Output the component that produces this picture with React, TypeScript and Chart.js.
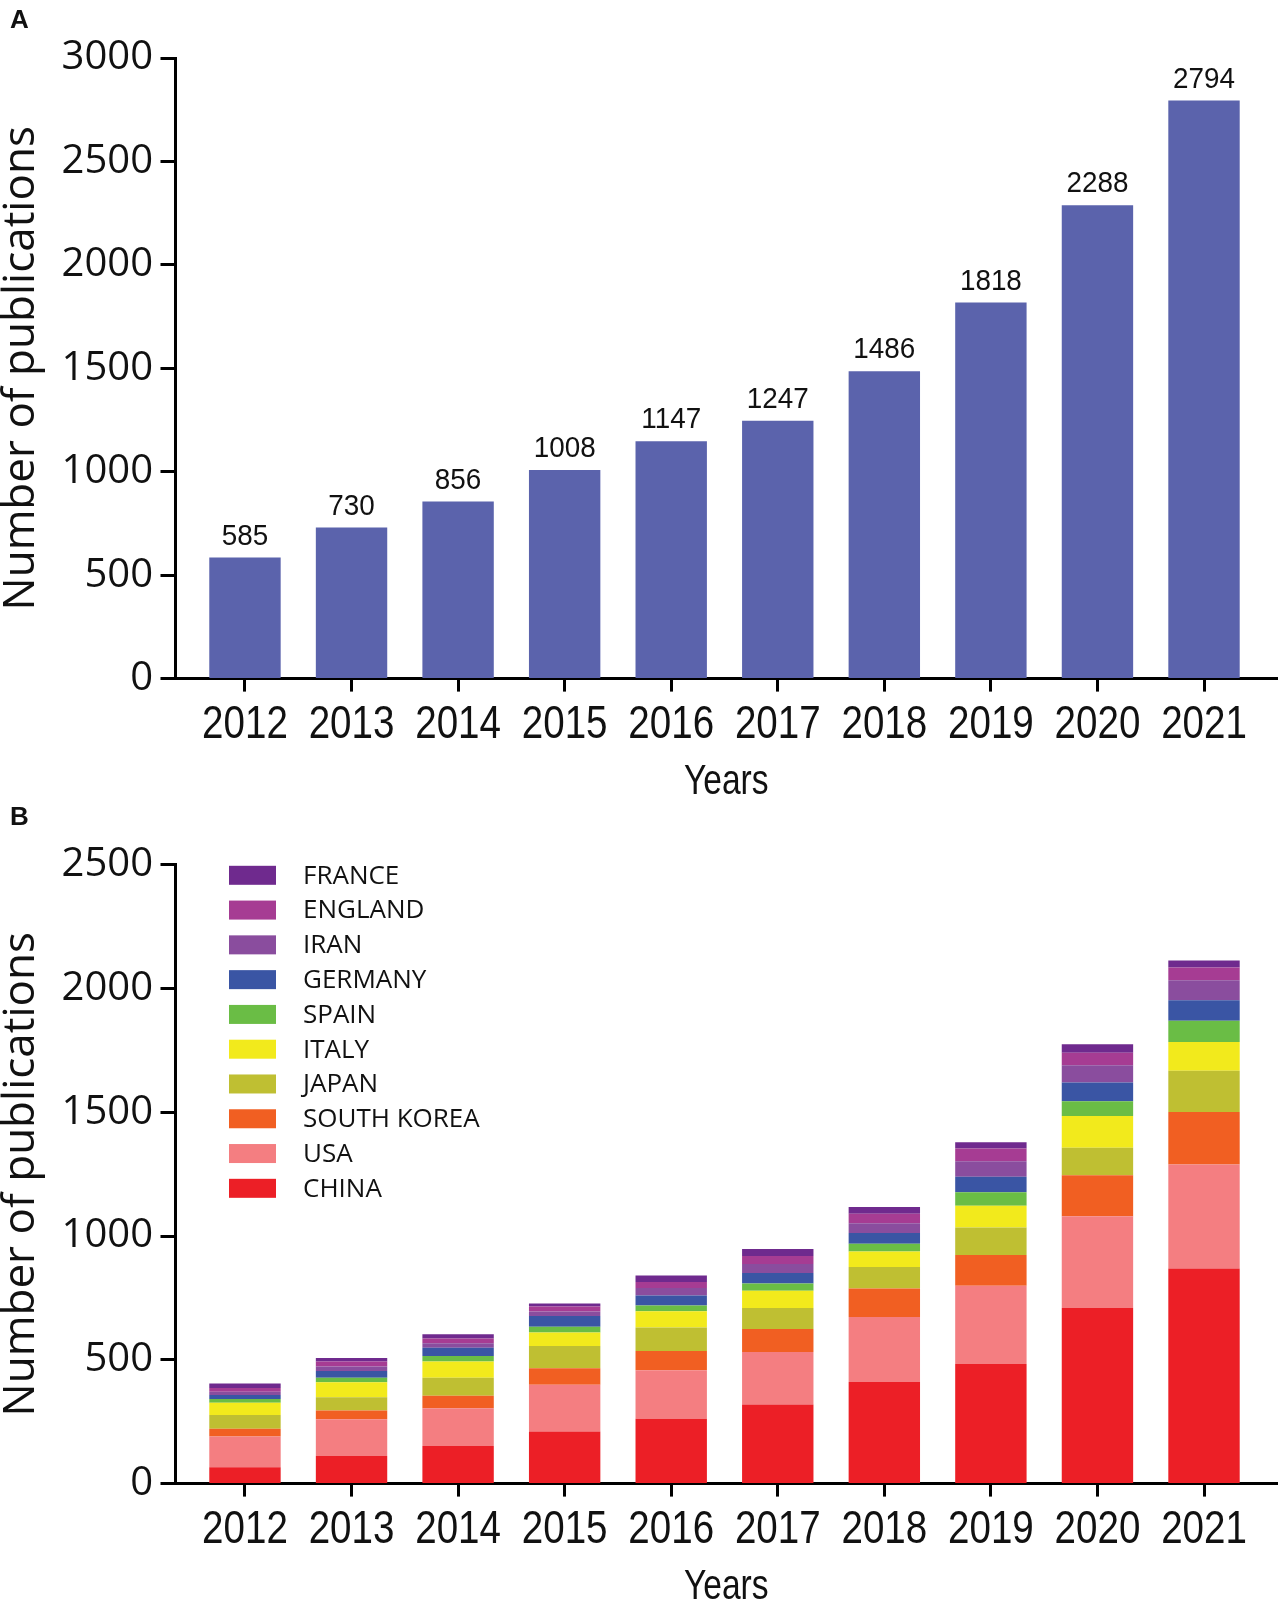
import { useEffect, useRef } from 'react';
import Chart from 'chart.js/auto';

const years = ['2012', '2013', '2014', '2015', '2016', '2017', '2018', '2019', '2020', '2021'];
const totalPublications = [585, 730, 856, 1008, 1147, 1247, 1486, 1818, 2288, 2794];
const yTicksA = [0, 500, 1000, 1500, 2000, 2500, 3000];
const yTicksB = [0, 500, 1000, 1500, 2000, 2500];

// country output per year, bottom of the stack first
const countries = ['CHINA', 'USA', 'SOUTH KOREA', 'JAPAN', 'ITALY', 'SPAIN', 'GERMANY', 'IRAN', 'ENGLAND', 'FRANCE'];
const china = [66, 112, 152, 210, 262, 320, 410, 483, 709, 869];
const usa = [124, 148, 152, 189, 196, 212, 263, 316, 371, 420];
const southKorea = [32, 35, 51, 67, 78, 93, 115, 125, 166, 212];
const japan = [55, 54, 73, 90, 95, 84, 87, 111, 111, 167];
const italy = [50, 60, 65, 54, 65, 70, 63, 88, 128, 116];
const spain = [15, 19, 23, 24, 24, 29, 31, 54, 60, 86];
const germany = [16, 27, 33, 43, 40, 43, 43, 63, 75, 83];
const iran = [13, 18, 18, 18, 30, 36, 40, 62, 70, 81];
const england = [15, 20, 19, 20, 24, 33, 38, 52, 51, 51];
const france = [18, 14, 17, 13, 27, 28, 27, 25, 34, 28];
const countrySeries = [china, usa, southKorea, japan, italy, spain, germany, iran, england, france];
const countryColors = ['#ec1f26', '#f47e81', '#f15f22', '#bfbf32', '#f2ea1c', '#6abd45', '#3a55a4', '#8a4d9e', '#a63c93', '#6f2a8e'];

const SANS = "'Open Sans', 'DejaVu Sans', sans-serif";
const ARIAL = "'Liberation Sans', Arial, sans-serif";

function makeScales(yTicks: number[]) {
  return {
    x: {
      type: 'linear' as const,
      min: -0.652,
      max: 9.685,
      offset: false,
      stacked: true,
      afterFit: (scale: any) => {
        scale.height = 121.4;
      },
      afterBuildTicks: (scale: any) => {
        scale.ticks = years.map((_, i) => ({ value: i }));
      },
      border: { display: true, color: '#000', width: 3 },
      grid: { offset: false, drawOnChartArea: false, drawTicks: true, tickLength: 13, tickWidth: 3, tickColor: '#000' },
      // labels and title are drawn narrow by the xLabels plugin
      ticks: { display: false, autoSkip: false, maxRotation: 0 },
      title: { display: false },
    },
    y: {
      min: yTicks[0],
      max: yTicks[yTicks.length - 1],
      stacked: true,
      afterFit: (scale: any) => {
        scale.width = 175.5;
      },
      afterBuildTicks: (scale: any) => {
        scale.ticks = yTicks.map((v) => ({ value: v }));
      },
      border: { display: true, color: '#000', width: 3 },
      grid: { drawOnChartArea: false, drawTicks: true, tickLength: 15, tickWidth: 3, tickColor: '#000' },
      ticks: {
        padding: 7.5,
        color: '#111',
        font: { family: SANS, size: 40, lineHeight: 1 },
        callback: (v: any) => String(v),
      },
      title: {
        display: true,
        text: 'Number of publications',
        color: '#111',
        padding: { top: 0, bottom: 0 },
        font: { family: SANS, size: 44, lineHeight: 0.98 },
      },
    },
  };
}

// condensed year labels and axis title under the x axis
const xLabels = {
  id: 'xLabels',
  afterDraw(chart: any) {
    const { ctx } = chart;
    const xs = chart.scales.x;
    ctx.save();
    ctx.fillStyle = '#111';
    ctx.textAlign = 'center';
    ctx.textBaseline = 'middle';
    ctx.font = `47px ${ARIAL}`;
    xs.ticks.forEach((t: any, i: number) => {
      ctx.save();
      ctx.translate(xs.getPixelForTick(i), xs.top + 46);
      ctx.scale(0.82, 1);
      ctx.fillText(years[t.value], 0, 0);
      ctx.restore();
    });
    ctx.font = `42px ${ARIAL}`;
    ctx.translate((xs.left + xs.right) / 2, xs.top + 104);
    ctx.scale(0.8, 1);
    ctx.fillText('Years', 0, 0);
    ctx.restore();
  },
};

const valueLabels = {
  id: 'valueLabels',
  afterDatasetsDraw(chart: any) {
    const { ctx } = chart;
    const meta = chart.getDatasetMeta(0);
    ctx.save();
    ctx.font = `29px ${ARIAL}`;
    ctx.fillStyle = '#111';
    ctx.textAlign = 'center';
    ctx.textBaseline = 'alphabetic';
    meta.data.forEach((bar: any, i: number) => {
      ctx.save();
      ctx.translate(bar.x, bar.y - 13);
      ctx.scale(0.96, 1);
      ctx.fillText(String(totalPublications[i]), 0, 0);
      ctx.restore();
    });
    ctx.restore();
  },
};

// legend drawn inside the plot, top entry = top of the stack
const countryLegend = {
  id: 'countryLegend',
  afterDraw(chart: any) {
    const { ctx } = chart;
    const sets = chart.data.datasets;
    ctx.save();
    ctx.font = `26px ${SANS}`;
    ctx.textBaseline = 'middle';
    ctx.textAlign = 'left';
    for (let k = 0; k < sets.length; k++) {
      const ds = sets[sets.length - 1 - k];
      const cy = 75.3 + k * 34.78;
      ctx.fillStyle = ds.backgroundColor;
      ctx.fillRect(229, cy - 9.5, 47, 19);
      ctx.fillStyle = '#111';
      ctx.fillText(ds.label, 303, cy + 1);
    }
    ctx.restore();
  },
};

function PublicationsChart() {
  const chartRef = useRef<HTMLCanvasElement>(null);

  useEffect(() => {
    if (!chartRef.current) return;
    const chart = new Chart(chartRef.current, {
      type: 'bar',
      data: {
        datasets: [
          {
            label: 'Publications',
            data: totalPublications.map((v, i) => ({ x: i, y: v })),
            backgroundColor: '#5b63ac',
            borderWidth: 0,
            categoryPercentage: 1,
            barPercentage: 0.67,
          },
        ],
      },
      options: {
        responsive: false,
        animation: false,
        layout: { padding: { top: 58, right: 2, bottom: 0, left: 0 } },
        plugins: { legend: { display: false }, tooltip: { enabled: false } },
        scales: makeScales(yTicksA) as any,
      },
      plugins: [valueLabels, xLabels],
    });
    return () => chart.destroy();
  }, []);

  return <canvas ref={chartRef} width={1279} height={800} style={{ position: 'absolute', left: 0, top: 0 }} />;
}

function CountryChart() {
  const chartRef = useRef<HTMLCanvasElement>(null);

  useEffect(() => {
    if (!chartRef.current) return;
    const chart = new Chart(chartRef.current, {
      type: 'bar',
      data: {
        datasets: countries.map((name, s) => ({
          label: name,
          data: countrySeries[s].map((v, i) => ({ x: i, y: v })),
          backgroundColor: countryColors[s],
          borderWidth: 0,
          categoryPercentage: 1,
          barPercentage: 0.67,
        })),
      },
      options: {
        responsive: false,
        animation: false,
        layout: { padding: { top: 64.8, right: 2, bottom: 0, left: 0 } },
        plugins: { legend: { display: false }, tooltip: { enabled: false } },
        scales: makeScales(yTicksB) as any,
      },
      plugins: [countryLegend, xLabels],
    });
    return () => chart.destroy();
  }, []);

  return <canvas ref={chartRef} width={1279} height={805} style={{ position: 'absolute', left: 0, top: 800 }} />;
}

const panelLetter = {
  position: 'absolute' as const,
  left: 10,
  fontFamily: ARIAL,
  fontWeight: 700,
  fontSize: 26,
  lineHeight: '26px',
  color: '#111',
};

export default function App() {
  return (
    <div style={{ position: 'absolute', left: 0, top: 0, width: 1279, height: 1600, overflow: 'hidden', background: '#fff' }}>
      <PublicationsChart />
      <CountryChart />
      <div style={{ ...panelLetter, top: 6 }}>A</div>
      <div style={{ ...panelLetter, top: 803 }}>B</div>
    </div>
  );
}
